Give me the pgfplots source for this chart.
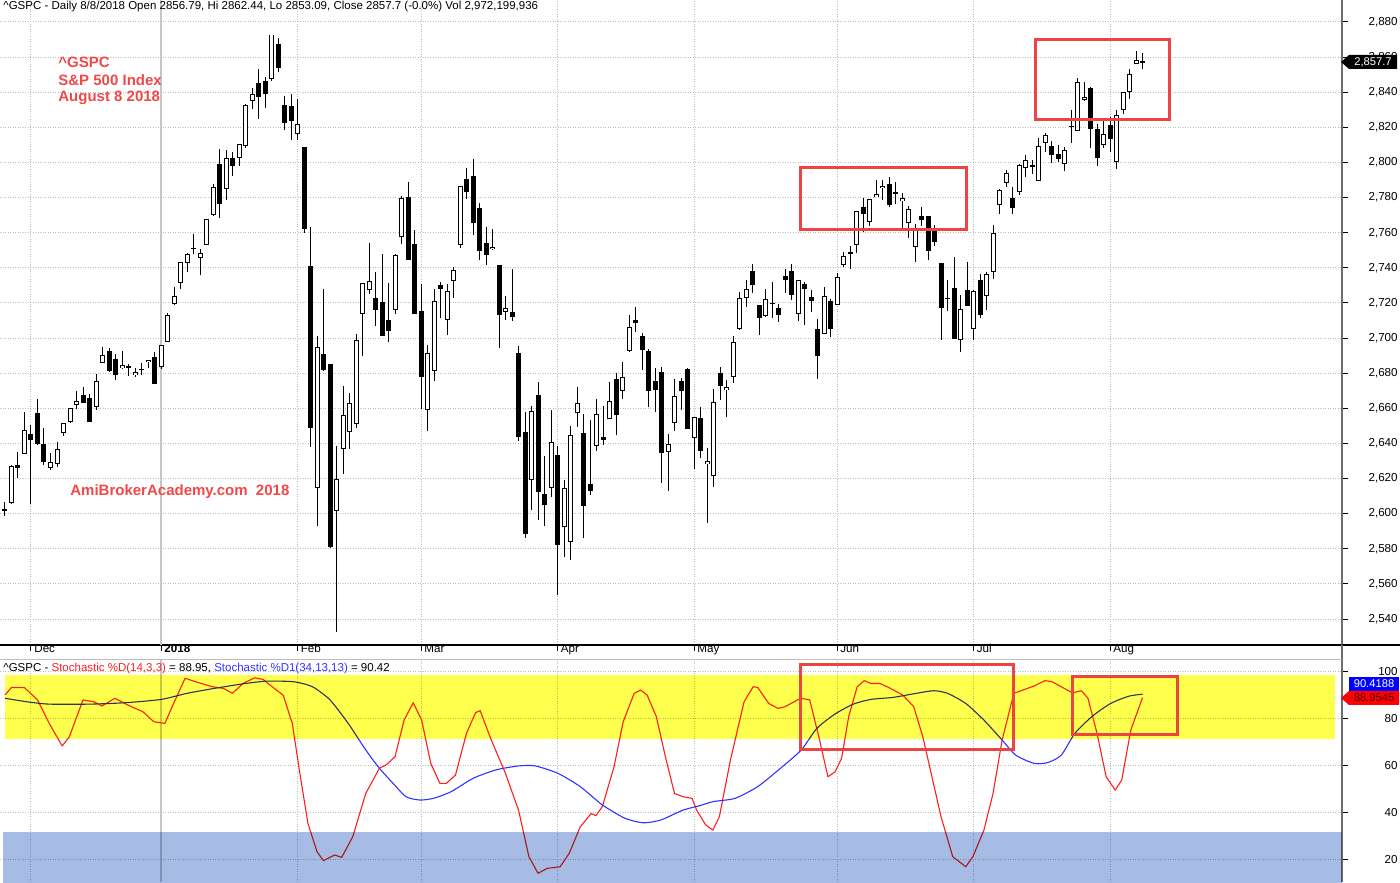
\documentclass[border=0pt]{standalone}
\usepackage{pgfplots}
\pgfplotsset{compat=1.18}
\usepackage{pgfplotstable}
\usepackage{fontspec}
\setmainfont{Liberation Sans}

\definecolor{redbox}{RGB}{234,68,68}
\definecolor{redtxt}{RGB}{240,72,72}
\definecolor{gridc}{RGB}{190,190,190}
\definecolor{bandY}{RGB}{255,255,77}
\definecolor{bandB}{RGB}{166,188,228}
\definecolor{stoR}{RGB}{255,30,30}
\definecolor{stoB}{RGB}{50,50,255}
\definecolor{axisg}{RGB}{110,110,110}

\pgfplotstableread{
i o h l c
0 2602.66 2606.41 2598.87 2601.42
1 2605.94 2627.69 2605.44 2627.04
2 2627.82 2634.89 2620.32 2626.07
3 2633.93 2657.74 2633.93 2647.58
4 2645.10 2650.62 2605.52 2642.22
5 2657.19 2665.19 2639.03 2639.44
6 2639.78 2648.72 2627.73 2629.57
7 2626.24 2634.41 2624.75 2629.27
8 2628.38 2640.99 2626.53 2636.98
9 2646.21 2651.65 2644.10 2651.50
10 2652.19 2660.33 2651.47 2659.99
11 2661.73 2669.72 2659.78 2664.11
12 2667.59 2671.88 2662.85 2662.85
13 2665.87 2668.09 2652.01 2652.01
14 2660.63 2679.63 2659.14 2675.81
15 2685.92 2694.97 2685.92 2690.16
16 2692.71 2694.44 2680.74 2681.47
17 2688.18 2691.01 2676.11 2679.25
18 2683.02 2692.64 2682.40 2684.57
19 2684.22 2685.35 2678.13 2683.34
20 2679.09 2682.74 2677.96 2680.50
21 2682.10 2685.64 2678.91 2682.62
22 2686.10 2687.66 2682.69 2687.54
23 2689.15 2692.12 2673.61 2673.61
24 2683.73 2695.89 2682.36 2695.81
25 2697.85 2714.37 2697.77 2713.06
26 2719.31 2729.29 2719.07 2723.99
27 2731.33 2743.45 2727.92 2743.15
28 2742.67 2748.51 2737.60 2747.71
29 2751.15 2759.14 2747.86 2751.29
30 2745.55 2750.80 2736.06 2748.23
31 2752.97 2767.56 2752.78 2767.56
32 2770.18 2787.85 2769.64 2786.24
33 2798.96 2807.54 2768.64 2776.42
34 2784.99 2807.04 2778.38 2802.56
35 2802.40 2805.83 2792.56 2798.03
36 2802.60 2810.33 2798.08 2810.30
37 2809.16 2833.03 2808.12 2832.97
38 2835.05 2842.24 2830.59 2839.13
39 2845.42 2852.97 2824.81 2837.54
40 2846.24 2848.56 2830.94 2839.25
41 2847.48 2872.87 2846.18 2872.87
42 2867.23 2870.62 2851.48 2853.53
43 2832.74 2837.75 2818.27 2822.43
44 2832.41 2839.26 2813.04 2823.81
45 2816.45 2835.96 2812.70 2821.98
46 2808.92 2808.92 2759.97 2762.13
47 2741.06 2763.39 2638.17 2648.94
48 2614.78 2701.04 2593.07 2695.14
49 2690.95 2727.67 2681.33 2681.66
50 2685.01 2685.27 2580.56 2581.00
51 2601.78 2638.67 2532.69 2619.55
52 2636.75 2672.61 2622.45 2656.00
53 2646.27 2668.84 2637.08 2662.94
54 2651.21 2702.10 2648.87 2698.63
55 2713.46 2731.51 2689.82 2731.20
56 2727.14 2754.42 2725.11 2732.22
57 2722.99 2737.60 2706.76 2716.26
58 2720.53 2747.75 2701.29 2701.33
59 2710.42 2731.26 2697.77 2703.96
60 2715.80 2747.76 2713.74 2747.30
61 2757.37 2780.64 2753.78 2779.60
62 2780.45 2789.15 2744.22 2744.28
63 2753.78 2761.52 2713.54 2713.83
64 2715.22 2730.89 2659.65 2677.67
65 2658.89 2696.25 2647.32 2691.25
66 2681.06 2728.09 2675.75 2720.94
67 2730.18 2732.08 2711.26 2728.12
68 2710.18 2730.60 2701.74 2726.80
69 2732.75 2740.45 2722.65 2738.97
70 2752.91 2786.57 2751.54 2786.57
71 2790.54 2796.98 2779.26 2783.02
72 2792.31 2801.90 2758.68 2765.31
73 2774.06 2777.11 2744.38 2749.48
74 2754.27 2763.03 2741.47 2747.33
75 2750.57 2761.85 2749.97 2752.01
76 2741.38 2741.38 2694.59 2712.92
77 2715.05 2724.22 2710.05 2716.94
78 2714.99 2739.14 2709.79 2711.93
79 2691.36 2695.68 2641.59 2643.69
80 2646.71 2657.67 2585.89 2588.26
81 2619.35 2661.36 2601.81 2658.55
82 2667.57 2674.78 2596.12 2612.62
83 2611.30 2632.65 2593.06 2605.00
84 2614.41 2659.07 2609.72 2640.87
85 2633.45 2638.30 2553.80 2581.88
86 2592.17 2619.14 2575.49 2614.45
87 2584.04 2649.86 2573.61 2644.69
88 2657.36 2672.08 2649.58 2662.84
89 2645.82 2656.88 2586.27 2604.47
90 2617.18 2653.55 2610.79 2613.16
91 2638.41 2665.45 2635.78 2656.87
92 2643.69 2661.43 2639.25 2642.19
93 2653.83 2674.72 2653.83 2663.99
94 2676.90 2680.26 2645.05 2656.30
95 2670.10 2686.49 2665.16 2677.84
96 2692.74 2713.34 2692.05 2706.39
97 2710.11 2717.49 2703.63 2708.64
98 2701.16 2702.84 2681.90 2693.13
99 2692.56 2693.94 2660.61 2670.14
100 2675.40 2682.86 2657.99 2670.29
101 2680.80 2683.55 2617.32 2634.56
102 2634.92 2645.30 2612.67 2639.40
103 2651.65 2676.48 2647.16 2666.94
104 2675.47 2677.35 2659.01 2669.91
105 2682.51 2682.87 2648.04 2648.05
106 2642.96 2655.27 2625.41 2654.80
107 2654.24 2660.87 2631.70 2635.67
108 2628.08 2637.14 2594.62 2629.73
109 2621.45 2670.93 2615.32 2663.42
110 2680.34 2683.35 2664.70 2672.63
111 2670.26 2676.34 2655.20 2671.92
112 2678.12 2701.27 2674.14 2697.79
113 2705.02 2726.11 2704.54 2723.07
114 2722.70 2732.86 2717.45 2727.72
115 2738.47 2742.10 2725.47 2730.13
116 2718.59 2718.59 2701.91 2711.45
117 2712.62 2727.76 2712.17 2722.46
118 2719.71 2731.96 2711.36 2720.13
119 2717.35 2719.50 2709.18 2712.97
120 2735.39 2739.19 2725.70 2733.01
121 2738.34 2742.24 2721.88 2724.44
122 2713.98 2733.33 2709.54 2733.29
123 2730.94 2731.97 2707.38 2727.76
124 2723.60 2727.36 2714.99 2721.33
125 2705.11 2710.67 2676.81 2689.86
126 2702.43 2729.34 2702.43 2724.01
127 2720.98 2722.50 2700.68 2705.27
128 2718.70 2736.93 2718.70 2734.62
129 2741.67 2749.16 2740.54 2746.87
130 2748.46 2752.61 2739.51 2748.80
131 2753.25 2772.39 2748.46 2772.35
132 2774.84 2779.90 2760.16 2770.37
133 2765.84 2779.39 2763.59 2779.03
134 2780.18 2790.21 2780.17 2782.00
135 2785.60 2789.80 2778.78 2786.85
136 2787.94 2791.47 2774.65 2775.63
137 2783.21 2789.06 2776.52 2782.49
138 2777.78 2782.81 2761.73 2779.66
139 2765.79 2774.99 2757.12 2773.75
140 2752.01 2765.05 2743.19 2762.59
141 2769.73 2774.86 2763.91 2767.32
142 2769.28 2769.28 2744.39 2749.76
143 2760.79 2764.17 2752.68 2754.88
144 2742.94 2742.94 2698.67 2717.07
145 2722.12 2732.91 2715.60 2723.06
146 2728.45 2746.09 2699.38 2699.63
147 2698.69 2724.34 2691.99 2716.31
148 2727.13 2743.26 2718.03 2718.37
149 2704.95 2727.26 2698.95 2726.71
150 2733.27 2736.58 2711.16 2713.22
151 2724.19 2737.83 2716.02 2736.61
152 2737.68 2764.41 2733.52 2759.82
153 2775.62 2784.65 2770.73 2784.17
154 2788.56 2795.58 2786.24 2793.84
155 2779.82 2785.91 2770.77 2774.02
156 2783.14 2799.22 2781.53 2798.29
157 2796.93 2804.53 2791.69 2801.31
158 2797.36 2801.19 2793.39 2798.43
159 2789.34 2814.19 2789.24 2809.55
160 2811.35 2816.76 2805.89 2815.62
161 2809.37 2812.05 2799.77 2804.49
162 2804.55 2809.70 2800.01 2801.83
163 2799.17 2808.61 2795.14 2806.98
164 2820.68 2829.99 2811.12 2820.40
165 2817.73 2848.03 2817.73 2846.07
166 2835.49 2845.57 2835.26 2837.44
167 2842.35 2843.17 2808.34 2818.82
168 2819.00 2821.74 2798.11 2802.60
169 2809.73 2824.46 2808.06 2816.29
170 2821.17 2825.83 2805.85 2813.36
171 2800.48 2829.91 2796.34 2827.22
172 2829.62 2840.38 2827.37 2840.35
173 2840.29 2853.29 2835.98 2850.40
174 2855.92 2863.43 2855.92 2858.45
175 2856.79 2862.44 2853.09 2857.70
}\ohlc

\begin{document}
\begin{tikzpicture}
% ---------------- upper panel: candles ----------------
\begin{axis}[
  at={(0pt,118.5pt)}, anchor=south west,
  scale only axis, width=671pt, height=322.5pt,
  xmin=-0.769, xmax=205.69, ymin=2525.2, ymax=2892.53,
  axis x line*=bottom, axis y line*=right,
  x axis line style={-, black, line width=0.6pt},
  y axis line style={-, axisg, line width=0.9pt},
  xtick={4,24,45,64,85,106,128,149,170},
  xticklabels={Dec,\textbf{2018},Feb,Mar,Apr,May,Jun,Jul,Aug},
  extra x ticks={24}, extra x tick labels={},
  extra x tick style={grid style={solid, gray!45, line width=0.7pt}},
  ytick={2540,2560,...,2880},
  tick align=outside, major tick length=3pt,
  tick style={black, line width=0.5pt},
  xmajorgrids, ymajorgrids,
  grid style={gridc, dash pattern=on 0.5pt off 0.75pt, line width=0.5pt},
  ticklabel style={font=\fontsize{5.8pt}{7pt}\selectfont},
  yticklabel style={anchor=east, inner sep=0pt, xshift=25pt, /pgf/number format/.cd, 1000 sep={,}, fixed, assume math mode=true},
  xticklabel style={anchor=north west, inner sep=0pt, xshift=1.5pt, yshift=3.5pt},
]
% wicks
\addplot[draw=none, mark=none, forget plot, error bars/.cd, y dir=both, y explicit, error mark=none, error bar style={draw=black, line width=0.5pt}]
  table[x=i, y expr={(\thisrow{h}+\thisrow{l})/2}, y error expr={(\thisrow{h}-\thisrow{l})/2}] {\ohlc};
% bodies (black)
\addplot[draw=none, mark=none, forget plot, error bars/.cd, y dir=both, y explicit, error mark=none, error bar style={draw=black, line width=2.5pt}]
  table[x=i, y expr={(\thisrow{o}+\thisrow{c})/2}, y error expr={max(abs(\thisrow{c}-\thisrow{o})/2,0.3)}] {\ohlc};
% hollow interiors for up days
\addplot[draw=none, mark=none, forget plot, error bars/.cd, y dir=both, y explicit, error mark=none, error bar style={draw=white, line width=1.5pt}]
  table[x=i, y expr={(\thisrow{o}+\thisrow{c})/2}, y error expr={(\thisrow{c}>\thisrow{o})*max((\thisrow{c}-\thisrow{o})/2-0.55,0)}] {\ohlc};
\draw[redbox, line width=1.5pt] (axis cs:122.4,2797.0) rectangle (axis cs:147.95,2762.1);
\draw[redbox, line width=1.5pt] (axis cs:158.6,2870.1) rectangle (axis cs:179.2,2824.2);
\end{axis}

% ---------------- lower panel: stochastics ----------------
\begin{axis}[
  at={(0pt,0pt)}, anchor=south west,
  scale only axis, width=671pt, height=111pt,
  xmin=-0.769, xmax=205.69, ymin=10.51, ymax=104.98,
  axis x line*=bottom, axis y line*=right,
  x axis line style={draw=none},
  y axis line style={-, axisg, line width=0.9pt},
  xtick={4,24,45,64,85,106,128,149,170},
  xticklabels={},
  xtick style={draw=none},
  extra x ticks={24}, extra x tick labels={},
  extra x tick style={xtick style={draw=none}, grid style={solid, gray!45, line width=0.7pt}},
  ytick={20,40,60,80,100},
  tick align=outside, major tick length=3pt,
  ytick style={black, line width=0.5pt},
  xmajorgrids, ymajorgrids,
  grid style={gridc, dash pattern=on 0.5pt off 0.75pt, line width=0.5pt},
  ticklabel style={font=\fontsize{5.8pt}{7pt}\selectfont},
  yticklabel style={anchor=east, inner sep=0pt, xshift=25pt, /pgf/number format/assume math mode=true},
]
\addplot[stoR, line width=0.55pt, line join=round, mark=none] coordinates {
(0,90.1)(1,93.3)(3,93.2)(5,88)(6.8,78)(8.8,68.4)(9.9,72.3)(12,88)(13.7,87.2)(14.9,85.4)(16.9,88.7)(19.2,85.4)(21.2,83)(22.9,78.7)(24.6,78)(25.7,85)(27.7,97.2)(29.8,95.3)(31.9,93.6)(33.6,92.9)(35,90.8)(36.6,95)(38.4,97.4)(39.7,96.7)(41.1,93.6)(42.8,90)(44.2,78)(45.2,59.6)(46.6,35.5)(48,23.4)(49,19.6)(50.7,22)(51.8,21)(53.5,29.8)(55.5,48.2)(57.6,58.9)(58.6,60.3)(60,63.8)(61.4,79.4)(62.8,86.8)(64.1,79.4)(65.5,61)(66.9,52.5)(67.9,52.5)(69.3,56)(71,73.8)(72.4,82.6)(73.1,83.4)(74.8,71)(76.9,57.4)(79,41.1)(80.6,21.3)(82,14.2)(83.4,16.3)(85.4,17)(86.8,22.7)(88.5,34)(90.2,39.7)(90.9,38.7)(91.9,42.6)(93.7,59.6)(95.1,78.7)(96.8,90.8)(97.8,92.2)(98.8,90)(100.2,80.9)(101.6,63.8)(103,48.2)(104.3,46.8)(105.7,46.1)(106.4,41.1)(107.8,34.8)(108.9,32.6)(109.9,38.3)(111.6,62.4)(113.7,87.2)(115.1,93.6)(115.8,93.3)(117.5,86.5)(118.9,84.4)(120,85.1)(122.4,88.7)(123.8,88)(125.2,72.3)(126.6,55.3)(127.7,57.4)(128.7,63.1)(129.8,80.9)(131.1,93.6)(132.2,96.2)(133.2,95)(134.6,95)(136,93.2)(138.1,90.1)(139.8,85.1)(141.2,72.3)(142.6,55.3)(144,38.3)(145.8,21.3)(147.8,17)(148.9,21.3)(150.6,32.6)(152,48.2)(153.4,70.9)(155.2,90.8)(156.6,92.2)(158.3,93.9)(160,96.2)(161.1,95.7)(162.5,93.6)(164.2,91)(165.6,91.9)(166.6,88.7)(168,73.8)(169.4,55.3)(170.8,49.6)(171.8,53.9)(173.2,75.2)(175,88.95)
};
\addplot[stoB, line width=0.55pt, smooth, tension=0.4, mark=none] coordinates {
(0,88.7)(3.4,87.2)(6.8,86.2)(13,86.2)(18.5,86.8)(24,88.2)(28,90.8)(32.2,92.9)(37,95)(40.4,96)(44.5,95.7)(47.3,93.6)(50,88)(52.8,78)(55.5,66.7)(57.6,58.9)(59.7,52.5)(61.7,46.8)(63.8,45.4)(65.9,46.1)(68.6,48.9)(72,54.6)(75.5,58.2)(79,59.9)(81.6,59.9)(85.1,56.7)(88.5,51.1)(91.9,43.3)(95.4,37.6)(98.2,35.7)(100.9,36.9)(104.3,41.1)(106.9,43)(108.9,44.7)(112.3,46.1)(115.8,51.1)(119.3,58.9)(122.5,66.7)(124.9,75.9)(127.7,82)(130.5,86.2)(133.2,88.2)(136.7,89.1)(140.2,90.8)(142.9,91.9)(145,90.8)(147.8,86.5)(150.6,79.4)(153.4,70.9)(155.5,64.5)(158.3,61)(160.4,61.3)(162.5,64.5)(164.6,73.8)(167.3,81.1)(170.1,86.5)(172.9,89.6)(175,90.42)
};
\addplot[fill=bandY, draw=none, blend mode=multiply, forget plot] coordinates {(0,71.3) (204.6,71.3) (204.6,98.6) (0,98.6)} -- cycle;
\addplot[fill=bandB, draw=none, blend mode=multiply, forget plot] coordinates {(-0.3,5) (206,5) (206,31.6) (-0.3,31.6)} -- cycle;
\draw[redbox, line width=1.5pt] (axis cs:122.45,103.1) rectangle (axis cs:155.15,66.9);
\draw[redbox, line width=1.5pt] (axis cs:164.2,97.9) rectangle (axis cs:180.35,73.4);
\end{axis}

% ---------------- annotations in pixel coordinates ----------------
\begin{scope}[yshift=441pt, x=0.5pt, y=-0.5pt]
  \draw[black, line width=0.6pt] (1342,645) -- (1400,645);
  \draw[axisg, line width=0.9pt] (1342,645) -- (1342,660);
  \draw[gridc, line width=0.5pt] (0,660) -- (1342,660);
  \node[anchor=west, inner sep=0pt, font=\fontsize{5.75pt}{7pt}\selectfont] at (3,7)
    {\textasciicircum GSPC - Daily 8/8/2018 Open 2856.79, Hi 2862.44, Lo 2853.09, Close 2857.7 (-0.0\%) Vol 2,972,199,936};
  \begin{scope}[every node/.style={anchor=west, inner sep=0pt, text=redtxt, font=\bfseries\fontsize{7.5pt}{9pt}\selectfont}]
    \node at (58,62) {\textasciicircum GSPC};
    \node at (58,80) {S\&P 500 Index};
    \node at (58,98) {August 8 2018};
    \node at (70,492) {AmiBrokerAcademy.com\ \ 2018};
  \end{scope}
  \node[anchor=west, inner sep=0pt, font=\fontsize{5.75pt}{7pt}\selectfont] at (3,669)
    {\textasciicircum GSPC - \textcolor{stoR}{Stochastic \%D(14,3,3)} = 88.95, \textcolor{stoB}{Stochastic \%D1(34,13,13)} = 90.42};
  % value tags
  \fill[black] (1341,62) -- (1349,55) -- (1397,55) -- (1397,69) -- (1349,69) -- cycle;
  \node[text=white, inner sep=0pt, font=\fontsize{5.6pt}{7pt}\selectfont] at (1373,62) {2,857.7};
  \fill[blue] (1349,677) rectangle (1399,691);
  \node[text=white, inner sep=0pt, font=\fontsize{5.6pt}{7pt}\selectfont] at (1374,684) {90.4188};
  \fill[red] (1341,698) -- (1349,691) -- (1399,691) -- (1399,705) -- (1349,705) -- cycle;
  \node[text=black!70!red, inner sep=0pt, font=\fontsize{5.6pt}{7pt}\selectfont] at (1374,698) {88.9545};
\end{scope}
\pgfresetboundingbox
\path (0pt,0pt) rectangle (700pt,441pt);
\end{tikzpicture}
\end{document}
